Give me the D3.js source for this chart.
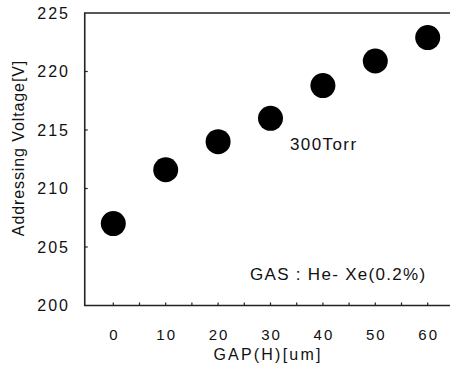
<!DOCTYPE html>
<html>
<head>
<meta charset="utf-8">
<script src="https://cdn.jsdelivr.net/npm/d3@7"></script>
<style>
  body { margin: 0; background: #fff; }
  text { font-family: "Liberation Sans", Arial, sans-serif; fill: #111; white-space: pre; }
</style>
</head>
<body>
<div id="chart"></div>
<script>
// addressing voltage vs gap, 300 Torr He-Xe

const gap = [0, 10, 20, 30, 40, 50, 60];
const voltage = [207.0, 211.6, 214.0, 216.0, 218.8, 220.9, 222.9];
const xTicks = [0, 10, 20, 30, 40, 50, 60];
const yTicks = [200, 205, 210, 215, 220, 225];

const width = 450, height = 378;

const svg = d3.select("#chart").append("svg")
    .attr("width", width)
    .attr("height", height);

const x = d3.scaleLinear()
    .domain([0, 60])
    .range([113.3, 427.7]);

const y = d3.scaleLinear()
    .domain([200, 225])
    .range([305.5, 13]);

const x0 = x(-5.45), x1 = x(66);

// frame (no right border visible, it runs off the page)
svg.append("path")
    .attr("d", `M${x1},${y(225)}H${x0}V${y(200)}H${x1}`)
    .attr("fill", "none")
    .attr("stroke", "#222")
    .attr("stroke-width", 1.6);

// inward ticks
svg.append("g")
    .selectAll("line")
    .data(d3.range(0, 61, 5))
    .join("line")
    .attr("x1", d => x(d)).attr("x2", d => x(d))
    .attr("y1", y(200)).attr("y2", y(200) - 3)
    .attr("stroke", "#222").attr("stroke-width", 1.2);

svg.append("g")
    .selectAll("line")
    .data([205, 210, 215, 220])
    .join("line")
    .attr("x1", x0).attr("x2", x0 + 3)
    .attr("y1", d => y(d)).attr("y2", d => y(d))
    .attr("stroke", "#222").attr("stroke-width", 1.2);

// tick labels
svg.append("g")
    .selectAll("text")
    .data(yTicks)
    .join("text")
    .attr("x", 70)
    .attr("y", d => y(d))
    .attr("dy", "0.36em")
    .attr("text-anchor", "end")
    .attr("font-size", 16)
    .attr("letter-spacing", 2)
    .text(d => d);

svg.append("g")
    .selectAll("text")
    .data(xTicks)
    .join("text")
    .attr("x", d => x(d) + 1)
    .attr("y", 340)
    .attr("text-anchor", "middle")
    .attr("font-size", 15)
    .attr("letter-spacing", 2)
    .text(d => d);

// axis titles
svg.append("text")
    .attr("x", 268)
    .attr("y", 360)
    .attr("text-anchor", "middle")
    .attr("font-size", 16)
    .attr("letter-spacing", 2.2)
    .text("GAP(H)[um]");

svg.append("text")
    .attr("transform", "translate(24,148) rotate(-90)")
    .attr("text-anchor", "middle")
    .attr("font-size", 16)
    .attr("letter-spacing", 0.9)
    .text("Addressing Voltage[V]");

// points
svg.append("g")
    .attr("fill", "#000")
    .selectAll("circle")
    .data(gap)
    .join("circle")
    .attr("cx", (d, i) => x(d))
    .attr("cy", (d, i) => y(voltage[i]))
    .attr("r", 12.5);

// annotations
svg.append("text")
    .attr("x", 290)
    .attr("y", 150)
    .attr("font-size", 17)
    .attr("letter-spacing", 1.4)
    .text("300Torr");

svg.append("text")
    .attr("x", 250)
    .attr("y", 280)
    .attr("font-size", 17)
    .attr("letter-spacing", 1.3)
    .text("GAS : He- Xe(0.2%)");
</script>
</body>
</html>
